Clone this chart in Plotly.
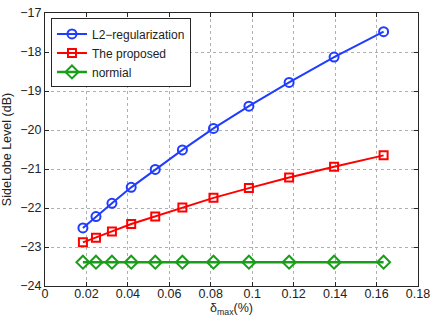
import plotly.graph_objects as go

delta_max = [0.0183, 0.0246, 0.0323, 0.0416, 0.0532, 0.0663, 0.0813, 0.0984, 0.1178, 0.1395, 0.1634]
l2_reg = [-22.51, -22.22, -21.88, -21.47, -21.01, -20.51, -19.96, -19.39, -18.78, -18.13, -17.48]
proposed = [-22.88, -22.76, -22.60, -22.41, -22.22, -21.99, -21.74, -21.49, -21.22, -20.94, -20.65]
normial = [-23.39] * 11

x_ticks = [0, 0.02, 0.04, 0.06, 0.08, 0.1, 0.12, 0.14, 0.16, 0.18]
x_tick_labels = ["0", "0.02", "0.04", "0.06", "0.08", "0.1", "0.12", "0.14", "0.16", "0.18"]
y_ticks = [-24, -23, -22, -21, -20, -19, -18, -17]
y_tick_labels = ["\u221224", "\u221223", "\u221222", "\u221221", "\u221220", "\u221219", "\u221218", "\u221217"]

fig = go.Figure()
fig.add_trace(go.Scatter(x=delta_max, y=l2_reg, name="L2\u2212regularization", mode="lines+markers",
                         line=dict(color="#1f3cff", width=2),
                         marker=dict(symbol="circle-open", size=9, color="#1f3cff", line=dict(width=2))))
fig.add_trace(go.Scatter(x=delta_max, y=proposed, name="The proposed", mode="lines+markers",
                         line=dict(color="#ff0000", width=2),
                         marker=dict(symbol="square-open", size=8, color="#ff0000", line=dict(width=2))))
fig.add_trace(go.Scatter(x=delta_max, y=normial, name="normial", mode="lines+markers",
                         line=dict(color="#1a9e1a", width=2.5),
                         marker=dict(symbol="diamond-open", size=10, color="#1a9e1a", line=dict(width=2))))

axis_common = dict(showline=True, linecolor="#262626", linewidth=1, mirror="ticks", ticks="inside",
                   ticklen=4, tickcolor="#262626", showgrid=True, gridcolor="#b0b0b0", griddash="dot",
                   gridwidth=1, zeroline=False, tickfont=dict(size=12.5, color="#222"),
                   ticklabeloverflow="allow")

fig.update_layout(
    width=436, height=327,
    margin=dict(l=43, r=12, t=6, b=41),
    paper_bgcolor="white", plot_bgcolor="white",
    font=dict(family="Liberation Sans", size=12.5, color="#222"),
    xaxis=dict(range=[0, 0.18], tickvals=x_ticks, ticktext=x_tick_labels, ticklabelstandoff=-4,
               title=dict(text="\u03b4<sub>max</sub>(%)", standoff=0, font=dict(size=12.5)), **axis_common),
    yaxis=dict(range=[-24, -17], tickvals=y_ticks, ticktext=y_tick_labels,
               title=dict(text="SideLobe Level (dB)", standoff=6, font=dict(size=12.5)), **axis_common),
    legend=dict(x=0.016, y=0.98, xanchor="left", yanchor="top", bgcolor="white",
                bordercolor="#262626", borderwidth=1, font=dict(size=12), tracegroupgap=0,
                itemwidth=30),
    showlegend=True,
)

fig.write_html("out.html", post_script="document.body.style.margin='0';",
               config={"displayModeBar": False})
